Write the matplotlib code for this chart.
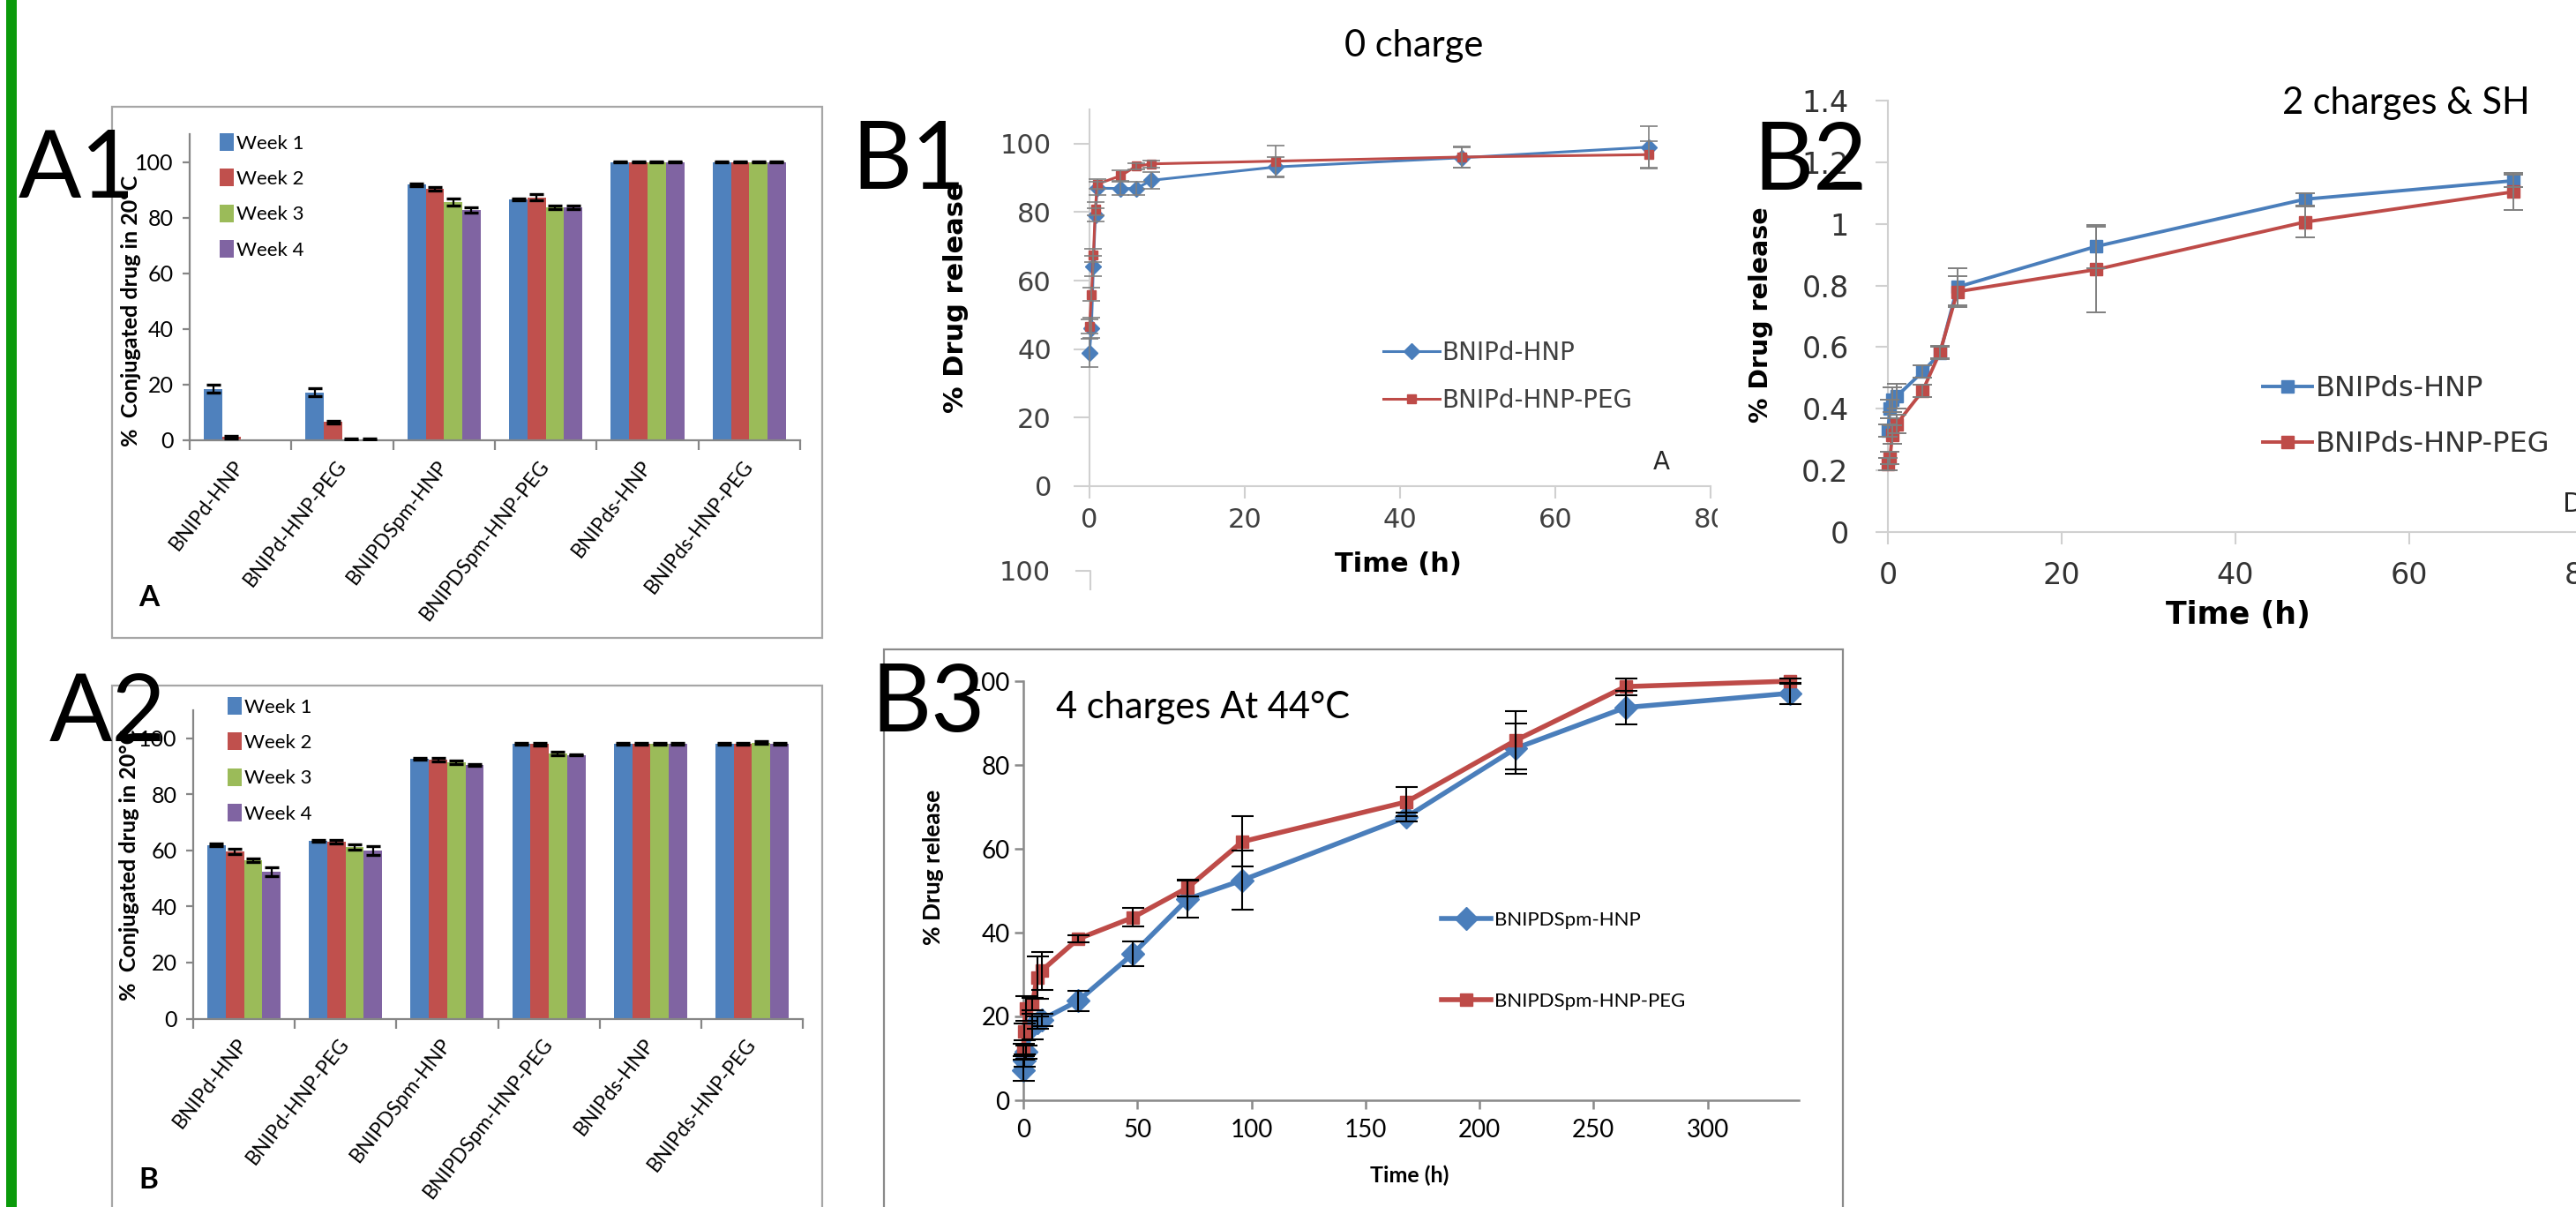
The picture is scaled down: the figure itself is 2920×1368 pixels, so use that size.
import numpy as np
import matplotlib.pyplot as plt
from matplotlib.patches import Rectangle
from matplotlib.lines import Line2D

plt.rcParams['font.family'] = ['Lato', 'DejaVu Sans']

W, H = 2920, 1368

# ---------------- data ----------------
groups = ['BNIPd-HNP', 'BNIPd-HNP-PEG', 'BNIPDSpm-HNP', 'BNIPDSpm-HNP-PEG',
          'BNIPds-HNP', 'BNIPds-HNP-PEG']
weeks = ['Week 1', 'Week 2', 'Week 3', 'Week 4']
week_colors = ['#4f81bd', '#c0504d', '#9bbb59', '#8064a2']

# A1: conjugated drug at 20 C, one row per week
a1_vals = [
    [18.5, 17.2, 91.8, 86.6, 100, 100],
    [1.2, 6.5, 90.3, 87.3, 100, 100],
    [0.0, 0.4, 85.6, 83.8, 100, 100],
    [0.0, 0.4, 82.7, 83.8, 100, 100],
]
a1_err = [
    [1.5, 1.5, 0.4, 0.3, 0.2, 0.2],
    [0.5, 0.5, 0.6, 1.2, 0.2, 0.2],
    [0.0, 0.3, 1.3, 0.6, 0.2, 0.2],
    [0.0, 0.3, 0.9, 0.6, 0.2, 0.2],
]

# A2
a2_vals = [
    [61.9, 63.4, 92.8, 98.1, 98.1, 98.1],
    [59.6, 63.1, 92.4, 97.9, 98.1, 98.1],
    [56.4, 61.2, 91.5, 94.7, 98.1, 98.5],
    [52.4, 60.0, 90.5, 94.1, 98.1, 98.1],
]
a2_err = [
    [0.5, 0.3, 0.3, 0.3, 0.3, 0.3],
    [1.0, 0.5, 0.6, 0.6, 0.3, 0.3],
    [0.6, 1.0, 0.6, 0.6, 0.3, 0.6],
    [1.5, 1.5, 0.3, 0.3, 0.3, 0.3],
]

# B1: 0 charge
b1_time = [0, 0.25, 0.5, 0.75, 1, 4, 6, 8, 24, 48, 72]
b1_hnp = [38.9, 46.2, 64.2, 79.2, 87.0, 86.9, 86.9, 89.3, 93.2, 95.9, 99.0]
b1_hnp_err = [4, 3, 3, 2, 2, 2, 2, 2.5, 3, 3, 6]
b1_peg = [46.6, 56.0, 67.4, 81.0, 88.2, 90.6, 93.4, 94.1, 94.9, 96.1, 96.8]
b1_peg_err = [2, 2, 2, 2, 1.5, 1.5, 1, 1, 4.5, 3, 4]

# B2: 2 charges & SH
b2_time = [0, 0.25, 0.5, 1, 4, 6, 8, 24, 48, 72]
b2_hnp = [0.33, 0.40, 0.43, 0.44, 0.52, 0.58, 0.795, 0.927, 1.08, 1.14]
b2_hnp_err = [0.02, 0.03, 0.04, 0.04, 0.02, 0.02, 0.06, 0.07, 0.02, 0.02]
b2_peg = [0.22, 0.24, 0.315, 0.35, 0.458, 0.584, 0.78, 0.852, 1.006, 1.104]
b2_peg_err = [0.02, 0.02, 0.03, 0.03, 0.02, 0.02, 0.05, 0.14, 0.05, 0.06]
b2_ticks = [0, 0.2, 0.4, 0.6, 0.8, 1.0, 1.2, 1.4]
b2_ticklabels = ['0', '0.2', '0.4', '0.6', '0.8', '1', '1.2', '1.4']

# B3: 4 charges at 44 C
b3_time = [0, 0.5, 1, 4, 6, 8, 24, 48, 72, 96, 168, 216, 264, 336]
b3_hnp = [7.2, 9.5, 11.5, 17.6, 18.5, 19.2, 23.7, 34.9, 48.0, 52.5, 67.6, 84.0, 93.7, 97.1]
b3_hnp_err = [2.5, 1.5, 1.5, 3, 1.5, 1.5, 2.5, 3, 4.5, 7, 1, 6, 4, 2.5]
b3_peg = [12.0, 16.4, 21.9, 23.0, 29.3, 30.9, 38.5, 43.6, 50.7, 61.7, 71.2, 85.9, 98.7, 100.0]
b3_peg_err = [1.5, 2, 3, 1.5, 5, 4.5, 0.8, 2.2, 2, 6, 3.5, 7, 2, 0.6]

c_blue = '#4a7ebb'
c_red = '#be4b48'

fig = plt.figure(figsize=(W / 100, H / 100), dpi=100)


def fx(x):
    return x / W


def fy(y):
    return 1 - y / H


def place(x0, y0, x1, y1, z=0):
    return fig.add_axes([fx(x0), fy(y1), (x1 - x0) / W, (y1 - y0) / H], zorder=z)


def label(x, y, s, **kw):
    fig.text(fx(x), fy(y), s, **kw)


def box(x0, y0, x1, y1, **kw):
    fig.add_artist(Rectangle((fx(x0), fy(y1)), (x1 - x0) / W, (y1 - y0) / H,
                             transform=fig.transFigure, **kw))


def axis_style(ax, color, lw, family, size, tcolor, tick_len):
    for s in ('top', 'right'):
        ax.spines[s].set_visible(False)
    for s in ('left', 'bottom'):
        ax.spines[s].set_color(color)
        ax.spines[s].set_linewidth(lw)
    ax.tick_params(which='major', color=color, width=lw, length=tick_len,
                   labelsize=size, labelcolor=tcolor)
    for t in ax.get_xticklabels() + ax.get_yticklabels():
        t.set_family(family)
    ax.patch.set_alpha(0)


def bar_panel(px, vals, errs, leg_xy):
    ax = place(*px)
    centers = np.arange(len(groups)) + 0.5
    bw = 0.18
    for k, wk in enumerate(weeks):
        xs = centers + (k - 1.5) * bw
        v = np.array(vals[k])
        e = np.array(errs[k])
        ax.bar(xs, v, bw, color=week_colors[k], label=wk, zorder=2)
        m = e > 0
        ax.errorbar(xs[m], v[m], yerr=e[m], fmt='none', ecolor='black',
                    elinewidth=1.6, capsize=6, capthick=2.4, zorder=3)
    ax.set_xlim(0, len(groups))
    ax.set_ylim(0, 110)
    ax.set_yticks(range(0, 101, 20))
    ax.set_xticks(np.arange(len(groups) + 1), labels=[])
    ax.set_xticks(centers, labels=groups, minor=True)
    axis_style(ax, '#868686', 1.6, 'Lato', 18, 'black', 6)
    ax.tick_params(axis='y', pad=7)
    ax.tick_params(axis='x', which='major', length=8)
    ax.tick_params(axis='x', which='minor', length=0, pad=18, labelsize=16.5)
    for t in ax.get_xticklabels(minor=True):
        t.set_rotation(52)
        t.set_ha('right')
        t.set_va('center')
        t.set_rotation_mode('anchor')
        t.set_family('Lato')
    ax.legend(loc='upper left', bbox_to_anchor=(fx(leg_xy[0]), fy(leg_xy[1])),
              bbox_transform=fig.transFigure, frameon=False, fontsize=16,
              handlelength=0.7, handleheight=1.0, handletextpad=0.15,
              labelspacing=0.85, borderpad=0, borderaxespad=0)
    return ax


# ---------------- panel frames ----------------
box(7, -5, 19, H + 5, facecolor='#0a9a0a', edgecolor='none')
box(127, 121, 932, 723, facecolor='none', edgecolor='#a6a6a6', lw=1.6)
box(127, 777, 932, H + 40, facecolor='none', edgecolor='#a6a6a6', lw=1.6)
box(1002, 736, 2089, H + 40, facecolor='none', edgecolor='#8a8a8a', lw=1.6)

# ---------------- A1 / A2 ----------------
bar_panel((215, 152, 907, 499), a1_vals, a1_err, (249, 151))
bar_panel((219, 805, 910, 1154.5), a2_vals, a2_err, (258, 790))
label(148, 352, '%  Conjugated drug in 20°C', rotation=90, ha='center', va='center',
      fontweight='bold', fontsize=18)
label(147, 980, '%  Conjugated drug in 20°C', rotation=90, ha='center', va='center',
      fontweight='bold', fontsize=18)
label(157, 687, 'A', fontweight='bold', fontsize=24, va='baseline')
label(157, 1347, 'B', fontweight='bold', fontsize=24, va='baseline')

# ---------------- B1 ----------------
ax = place(1235, 124, 1939, 551, z=0)
ax.plot(b1_time, b1_hnp, marker='D', ms=9, lw=2.2, color=c_blue, label='BNIPd-HNP',
        zorder=3, clip_on=False)
ax.plot(b1_time, b1_peg, marker='s', ms=7, lw=2.2, color=c_red, label='BNIPd-HNP-PEG',
        zorder=3, clip_on=False)
for s, e in ((b1_hnp, b1_hnp_err), (b1_peg, b1_peg_err)):
    ax.errorbar(b1_time, s, yerr=e, fmt='none', ecolor='#7f7f7f', elinewidth=1.2,
                capsize=7, capthick=1.2, zorder=4, clip_on=False)
ax.set_xlim(0, 80)
ax.set_ylim(0, 110)
ax.set_xticks(range(0, 81, 20))
ax.set_yticks(range(0, 101, 20))
axis_style(ax, '#d0d0d0', 1.5, 'DejaVu Sans', 22, '#404040', 13)
ax.tick_params(axis='y', pad=18)
ax.tick_params(axis='x', length=10, pad=7)
ax.set_xlabel('Time (h)', family='DejaVu Sans', fontweight='bold', fontsize=22)
ax.xaxis.set_label_coords(fx(1585), fy(640), transform=fig.transFigure)
ax.xaxis.label.set_va('center')
ax.set_ylabel('% Drug release', family='DejaVu Sans', fontweight='bold', fontsize=22)
ax.yaxis.set_label_coords(fx(1084), fy(337), transform=fig.transFigure)
ax.yaxis.label.set_va('center')
ax.legend(loc='upper left', bbox_to_anchor=(fx(1568), fy(386)), bbox_transform=fig.transFigure,
          frameon=False, prop={'family': 'DejaVu Sans', 'size': 20}, labelcolor='#404040',
          handlelength=2.3, handletextpad=0.1, labelspacing=0.93, borderpad=0, borderaxespad=0)
label(1874, 532, 'A', family='DejaVu Sans', fontsize=20, color='#262626', va='baseline')
label(1191, 650, '100', family='DejaVu Sans', fontsize=22, color='#404040', ha='right', va='center')
fig.add_artist(Line2D([fx(1220), fx(1236), fx(1236)], [fy(647), fy(647), fy(668)],
                      color='#d0d0d0', lw=1.5, transform=fig.transFigure))
label(1603, 52, '0 charge', fontsize=30, ha='center', va='center')

# white cover: B2 picture pasted over the right end of B1
box(1947, 0, W + 10, 728, facecolor='white', edgecolor='none', zorder=1)

# ---------------- B2 ----------------
ax = place(2140, 114, 2928, 603, z=2)
ax.plot(b2_time, b2_hnp, marker='s', ms=10, lw=2.8, color=c_blue, label='BNIPds-HNP',
        zorder=3, clip_on=False)
ax.plot(b2_time, b2_peg, marker='s', ms=10, lw=2.8, color=c_red, label='BNIPds-HNP-PEG',
        zorder=3, clip_on=False)
for s, e in ((b2_hnp, b2_hnp_err), (b2_peg, b2_peg_err)):
    ax.errorbar(b2_time, s, yerr=e, fmt='none', ecolor='#7f7f7f', elinewidth=1.4,
                capsize=8, capthick=1.4, zorder=4, clip_on=False)
ax.set_xlim(0, 80)
ax.set_ylim(0, 1.4)
ax.set_xticks(range(0, 81, 20))
ax.set_yticks(b2_ticks, labels=b2_ticklabels)
axis_style(ax, '#d0d0d0', 1.5, 'DejaVu Sans', 24, '#333333', 10)
ax.tick_params(axis='y', pad=22)
ax.tick_params(axis='x', pad=14)
ax.set_xlabel('Time (h)', family='DejaVu Sans', fontweight='bold', fontsize=25)
ax.xaxis.set_label_coords(fx(2537), fy(697), transform=fig.transFigure)
ax.xaxis.label.set_va('center')
ax.set_ylabel('% Drug release', family='DejaVu Sans', fontweight='bold', fontsize=20.5)
ax.yaxis.set_label_coords(fx(1996), fy(357), transform=fig.transFigure)
ax.yaxis.label.set_va('center')
ax.legend(loc='upper left', bbox_to_anchor=(fx(2565), fy(425)), bbox_transform=fig.transFigure,
          frameon=False, prop={'family': 'DejaVu Sans', 'size': 23}, labelcolor='#333333',
          handlelength=1.75, handletextpad=0.12, labelspacing=1.0, borderpad=0, borderaxespad=0)
label(2905, 580, 'D', family='DejaVu Sans', fontsize=22, color='#262626', va='baseline')
label(2587, 117, '2 charges & SH', fontsize=30, ha='left', va='center')

# ---------------- B3 ----------------
ax = place(1160, 772, 2039, 1247, z=0)
ax.plot(b3_time, b3_hnp, marker='D', ms=13, lw=4, color=c_blue, label='BNIPDSpm-HNP',
        zorder=3, clip_on=False)
ax.plot(b3_time, b3_peg, marker='s', ms=10, lw=4, color=c_red, label='BNIPDSpm-HNP-PEG',
        zorder=3, clip_on=False)
for s, e in ((b3_hnp, b3_hnp_err), (b3_peg, b3_peg_err)):
    ax.errorbar(b3_time, s, yerr=e, fmt='none', ecolor='black', elinewidth=1.5,
                capsize=9, capthick=1.5, zorder=4, clip_on=False)
ax.set_xlim(0, 340)
ax.set_ylim(0, 100)
ax.set_xticks(range(0, 301, 50))
ax.set_yticks(range(0, 101, 20))
axis_style(ax, '#898989', 1.8, 'Lato', 20, 'black', 7)
ax.tick_params(axis='y', pad=4)
ax.tick_params(axis='x', pad=8)
ax.set_xlabel('Time (h)', fontweight='bold', fontsize=18)
ax.xaxis.set_label_coords(fx(1598), fy(1332), transform=fig.transFigure)
ax.xaxis.label.set_va('center')
ax.set_ylabel('% Drug release', fontweight='bold', fontsize=19)
ax.yaxis.set_label_coords(fx(1058), fy(983), transform=fig.transFigure)
ax.yaxis.label.set_va('center')
ax.legend(loc='upper left', bbox_to_anchor=(fx(1634), fy(1033)), bbox_transform=fig.transFigure,
          frameon=False, fontsize=16, handlelength=2.5, handletextpad=0.18,
          labelspacing=3.23, borderpad=0, borderaxespad=0)
label(1197, 802, '4 charges At 44°C', fontsize=30, ha='left', va='center')

# ---------------- big panel tags ----------------
for tag, x, y in (('A1', 21, 224), ('A2', 56, 840), ('B1', 965, 214),
                  ('B2', 1987, 215), ('B3', 987, 829)):
    label(x, y, tag, fontsize=76, ha='left', va='baseline', zorder=5)

fig.savefig('out.png', dpi=100)
